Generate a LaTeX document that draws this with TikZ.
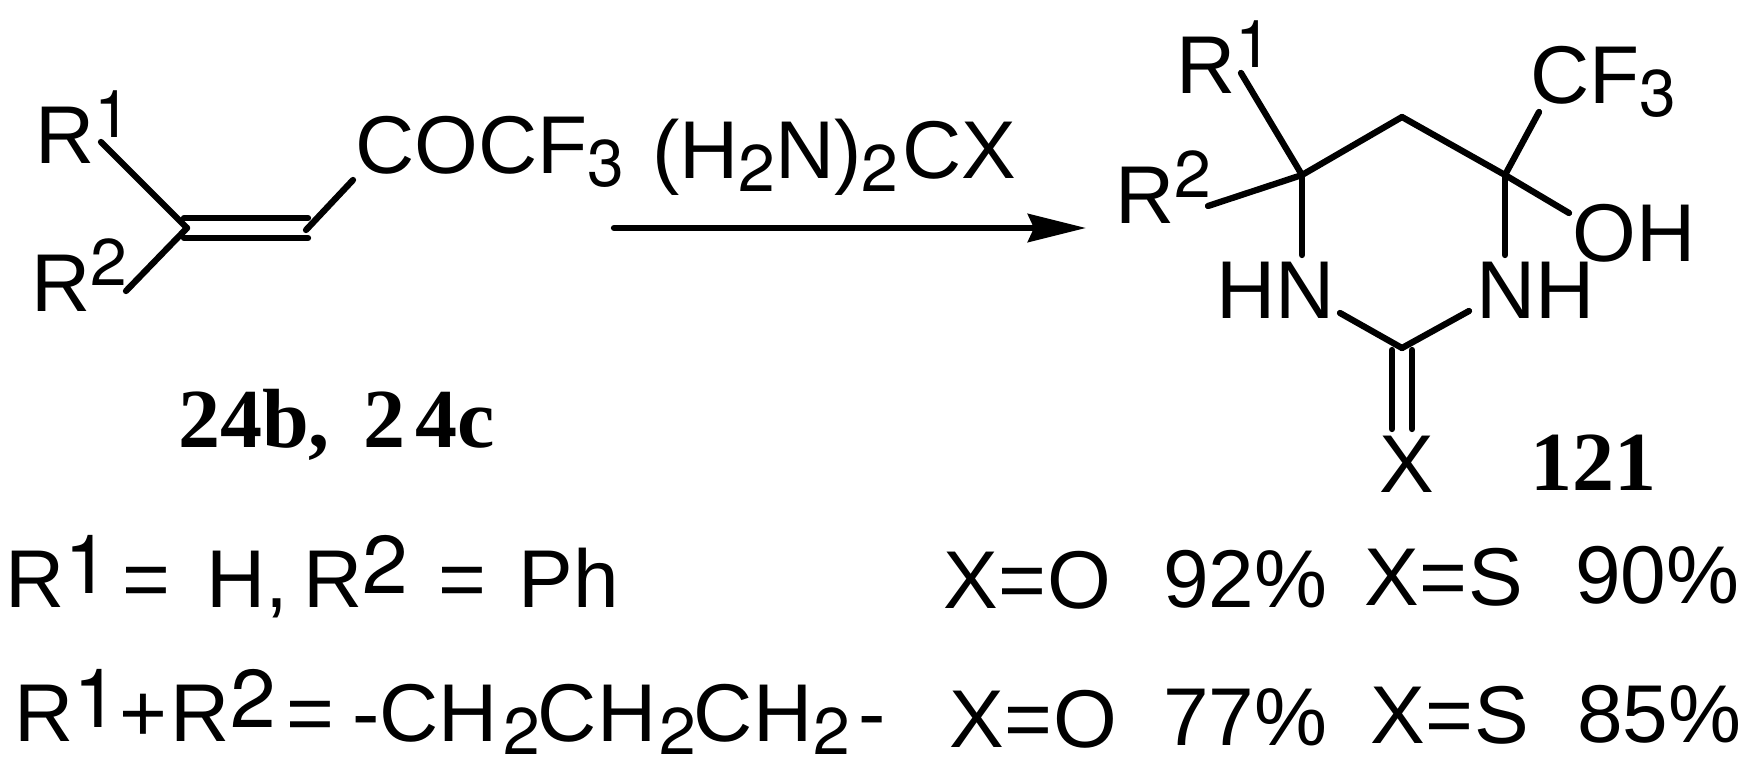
\documentclass[tikz,border=0pt]{standalone}
\usepackage{fontspec}
\setmainfont{Liberation Sans}
\newfontfamily\labelfont[BoldFont={Liberation Serif Bold}]{Liberation Serif}
\newfontfamily\digitfont{TeX Gyre Heros}
\usetikzlibrary{arrows.meta}
\newcommand{\supidx}[1]{\raisebox{26pt}{\digitfont\fontsize{66}{66}\selectfont #1}}
\newcommand{\subidx}[1]{\raisebox{-13pt}{\digitfont\fontsize{66}{66}\selectfont #1}}
\newcommand{\rowidx}[1]{\raisebox{14pt}{\digitfont #1}}
\tikzset{
  atom/.style={inner sep=0pt,anchor=base west,font=\fontsize{82}{82}\selectfont},
  compound/.style={inner sep=0pt,anchor=base west,font=\labelfont\bfseries\fontsize{84}{84}\selectfont},
  bond/.style={line width=6.3pt,line cap=round}
}
\begin{document}
\begin{tikzpicture}[x=1pt,y=-1pt]
    \useasboundingbox (0,0) rectangle (1751,774);

    % insert atoms of the alkene
    \node[atom] (r1a) at (35.5,163) {R\supidx{1}};
    \node[atom] (r2a) at (31.5,311) {R\supidx{2}};
    \node[atom] (cocf) at (355,173) {COCF\subidx{3}};
    \node[atom] (urea) at (652,178) {(H\subidx{2}N)\subidx{2}\kern 4pt CX};
    \node[compound] (names) at (178,447) {24b, \kern 13pt 2\kern 10pt 4c};

    % insert atoms of the ring
    \node[atom] (r1b) at (1176.5,93) {R\supidx{1}};
    \node[atom] (r2b) at (1115.5,223) {R\supidx{2}};
    \node[atom] (cf) at (1530,103) {CF\subidx{3}};
    \node[atom] (oh) at (1572,261) {OH};
    \node[atom] (hn) at (1216,318) {HN};
    \node[atom] (nh) at (1476,318) {NH};
    \node[atom] (x) at (1379,492) {X};
    \node[compound] (ringno) at (1530,490) {121};

    % insert table rows
    \node[atom] (rowa) at (5.5,607) {R\rowidx{1}\kern 12pt= \kern 13pt H,\kern 15pt R\rowidx{2} \kern 7.5pt= \kern 10pt Ph};
    \node[atom] (rowb) at (14,741) {R\rowidx{1}+\kern 4pt R\rowidx{2}\kern 11pt= \kern -5pt-CH\kern 5pt\subidx{2}\kern -2pt CH\kern 3pt\subidx{2}\kern -2pt CH\kern 1pt\subidx{2}\kern 8pt-};
    \node[atom] (xo1) at (943,608) {X\kern 1pt=\kern 1pt O};
    \node[atom] (y1) at (1163,607) {92\%};
    \node[atom] (xs1) at (1364,605) {X\kern 1pt=\kern 1pt S};
    \node[atom] (y2) at (1575,603) {90\%};
    \node[atom] (xo2) at (949,747) {X\kern 1pt=\kern 1pt O};
    \node[atom] (y3) at (1163,745) {77\%};
    \node[atom] (xs2) at (1370,743) {X\kern 1pt=\kern 1pt S};
    \node[atom] (y4) at (1577,742) {85\%};

    % insert vertices and bond ends
    \coordinate (ca) at (187,228);
    \coordinate (cb) at (306,230);
    \coordinate (ca1) at (184,218);
    \coordinate (cb1) at (308,218);
    \coordinate (ca2) at (184,238);
    \coordinate (cb2) at (308,238);
    \coordinate (r1aend) at (101,142);
    \coordinate (r2aend) at (126,291);
    \coordinate (cocfend) at (353,180);
    \coordinate (arrowa) at (614,228);
    \coordinate (arrowb) at (1086,228);
    \coordinate (c6) at (1302,175);
    \coordinate (c5) at (1402,117);
    \coordinate (c4) at (1505,175);
    \coordinate (c2) at (1402,348);
    \coordinate (r1bend) at (1241,73);
    \coordinate (r2bend) at (1208,206);
    \coordinate (cfend) at (1539,112);
    \coordinate (ohend) at (1569,213);
    \coordinate (hnup) at (1302,255);
    \coordinate (nhup) at (1505,255);
    \coordinate (hnend) at (1340,313);
    \coordinate (nhend) at (1469,311);
    \coordinate (xa1) at (1392,350);
    \coordinate (xa2) at (1392,429);
    \coordinate (xb1) at (1412,350);
    \coordinate (xb2) at (1412,429);

    % insert links
    \draw[bond] (r1aend) -- (ca);
    \draw[bond] (r2aend) -- (ca);
    \draw[bond] (ca1) -- (cb1);
    \draw[bond] (ca2) -- (cb2);
    \draw[bond] (cb) -- (cocfend);
    \draw[bond,-{Stealth[length=58pt,width=28pt,inset=6pt]}] (arrowa) -- (arrowb);
    \draw[bond] (r1bend) -- (c6);
    \draw[bond] (r2bend) -- (c6);
    \draw[bond] (c6) -- (c5);
    \draw[bond] (c5) -- (c4);
    \draw[bond] (c4) -- (cfend);
    \draw[bond] (c4) -- (ohend);
    \draw[bond] (c6) -- (hnup);
    \draw[bond] (c4) -- (nhup);
    \draw[bond] (hnend) -- (c2);
    \draw[bond] (nhend) -- (c2);
    \draw[bond] (xa1) -- (xa2);
    \draw[bond] (xb1) -- (xb2);
\end{tikzpicture}
\end{document}
